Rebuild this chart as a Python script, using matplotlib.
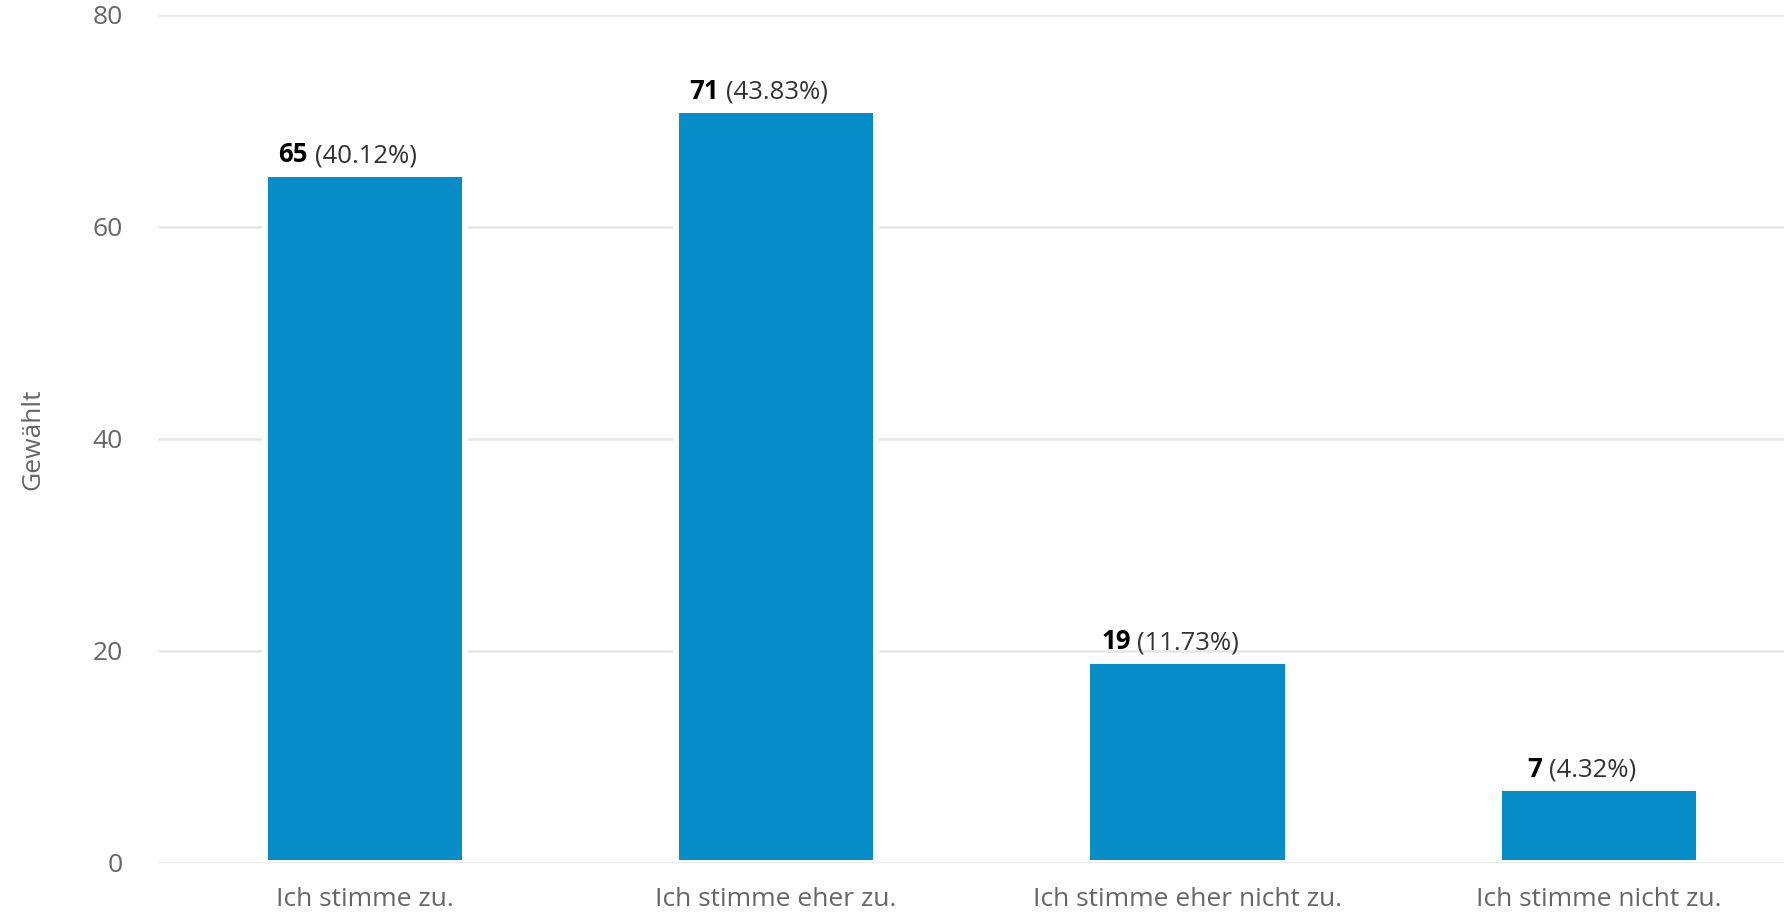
import numpy as np
import matplotlib
matplotlib.use("Agg")
import matplotlib.pyplot as plt

categories = ["Ich stimme zu.", "Ich stimme eher zu.",
              "Ich stimme eher nicht zu.", "Ich stimme nicht zu."]
counts = [65, 71, 19, 7]
percents = ["40.12%", "43.83%", "11.73%", "4.32%"]
yticks = [0, 20, 40, 60, 80]

plt.rcParams['font.family'] = ['Open Sans', 'DejaVu Sans']

fig = plt.figure(figsize=(17.84, 9.17), dpi=100)
ax = fig.add_axes([159 / 1784, 54.5 / 917, 1 - 159 / 1784, (862.5 - 15) / 917])

x = np.arange(len(categories))
# white border around the bars, like the original renderer
bars = ax.bar(x, counts, width=0.487, color='#068dc8', edgecolor='white',
              linewidth=4.3, zorder=3)

ax.set_xlim(-0.5, 3.45)
ax.set_ylim(0, 80)
ax.set_yticks(yticks)
ax.set_xticks(x)
ax.set_xticklabels(categories)
ax.tick_params(axis='both', length=0, labelsize=19, labelcolor='#666666')
ax.tick_params(axis='y', pad=26)
ax.tick_params(axis='x', pad=18)

ax.grid(axis='y', color='#e6e6e6', linewidth=1.8, zorder=0)
ax.axhline(0, color='#e6e6e6', linewidth=1.8, zorder=4)
for s in ax.spines.values():
    s.set_visible(False)

fig.text(33 / 1784, (917 - 439) / 917, "Gewählt", rotation=90,
         ha='center', va='center', fontsize=19, color='#666666')

# value labels: bold count + normal percentage
for b, n, p in zip(bars, counts, percents):
    cx = b.get_x() + b.get_width() / 2
    top = b.get_height()
    ax.annotate(str(n), (cx, top), xytext=(-41, 8.5), textcoords='offset points',
                ha='right', va='baseline', fontsize=18.5, fontweight='bold',
                color='black')
    ax.annotate("(" + p + ")", (cx, top), xytext=(-36, 8.5), textcoords='offset points',
                ha='left', va='baseline', fontsize=18.5, color='#333333')

fig.savefig("out.png", dpi=100)
